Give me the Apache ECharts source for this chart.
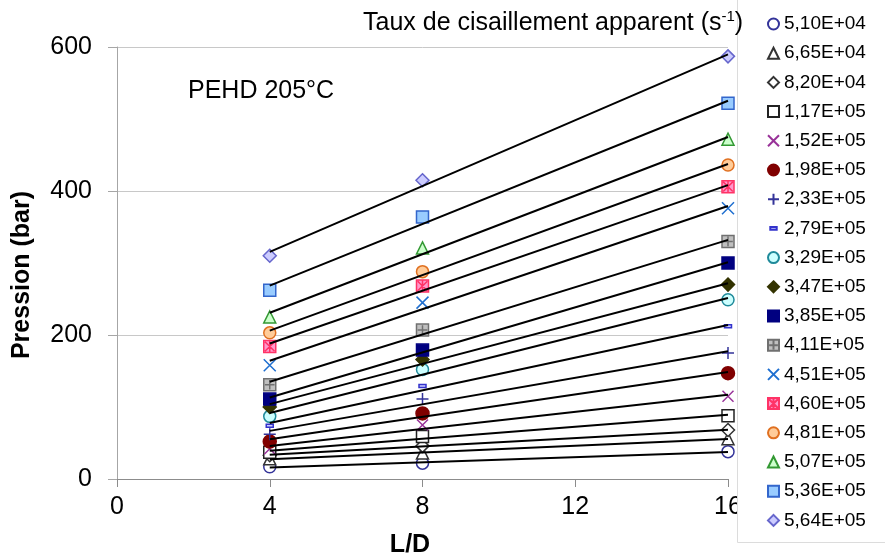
<!DOCTYPE html>
<html><head><meta charset="utf-8">
<script src="https://cdn.jsdelivr.net/npm/echarts@6/dist/echarts.min.js"></script>
<style>html,body{margin:0;padding:0;background:#fff}#c{width:885px;height:556px}</style>
</head><body><div id="c"></div><script>
// L/D values (x)
const ldValues = [4, 8, 16];
// axis ticks
const xTicks = [0, 4, 8, 12, 16];
const yTicks = [0, 200, 400, 600];
// Shear-rate labels (legend)
const shearRates = ['5,10E+04','6,65E+04','8,20E+04','1,17E+05','1,52E+05','1,98E+05','2,33E+05','2,79E+05','3,29E+05','3,47E+05','3,85E+05','4,11E+05','4,51E+05','4,60E+05','4,81E+05','5,07E+05','5,36E+05','5,64E+05'];
// Pressure (bar) at L/D = 4, 8, 16 for each shear rate
const p_510E04 = [17, 22, 38];
const p_665E04 = [28, 36, 56];
const p_820E04 = [33, 46, 68];
const p_117E05 = [37, 59, 88];
const p_152E05 = [42, 75, 115];
const p_198E05 = [52, 91, 147];
const p_233E05 = [62, 111, 175];
const p_279E05 = [74, 129, 212];
const p_329E05 = [87, 152, 249];
const p_347E05 = [100, 166, 270];
const p_385E05 = [111, 179, 300];
const p_411E05 = [131, 207, 330];
const p_451E05 = [158, 245, 376];
const p_460E05 = [184, 268, 406];
const p_481E05 = [203, 288, 436];
const p_507E05 = [225, 321, 472];
const p_536E05 = [262, 364, 522];
const p_564E05 = [310, 415, 587];
const pressures = [p_510E04,p_665E04,p_820E04,p_117E05,p_152E05,p_198E05,p_233E05,p_279E05,p_329E05,p_347E05,p_385E05,p_411E05,p_451E05,p_460E05,p_481E05,p_507E05,p_536E05,p_564E05];

const FONT = 'Liberation Sans, Arial, sans-serif';
const X_PATH = 'path://M0,0L10,10M10,0L0,10';
const PLUS_PATH = 'path://M5,0L5,10M0,5L10,5';
const GRAYPLUS_PATH = 'path://M0,0L10,0L10,10L0,10Z M5,1L5,9 M1,5L9,5';
const STAR_PATH = 'path://M0,0L10,0L10,10L0,10Z M5,0L5,10 M1,1L9,9 M9,1L1,9';
const DASH_PATH = 'path://M0,0M12,12M2.5,4.5L9.5,4.5L9.5,7.5L2.5,7.5Z';
const markerStyles = [
  {symbol:'circle', size:12, fill:'#ffffff', stroke:'#333399'},
  {symbol:'triangle', size:12, fill:'#ffffff', stroke:'#333333'},
  {symbol:'diamond', size:13, fill:'#ffffff', stroke:'#333333'},
  {symbol:'rect', size:12, fill:'#ffffff', stroke:'#222222'},
  {symbol:X_PATH, size:11, fill:'transparent', stroke:'#993399'},
  {symbol:'circle', size:13, fill:'#800000', stroke:'#800000'},
  {symbol:PLUS_PATH, size:12, fill:'transparent', stroke:'#333399'},
  {symbol:DASH_PATH, size:12, fill:'#ccccff', stroke:'#3333cc'},
  {symbol:'circle', size:12, fill:'#ccffff', stroke:'#1f8a9a'},
  {symbol:'diamond', size:13, fill:'#333300', stroke:'#333300'},
  {symbol:'rect', size:12, fill:'#000080', stroke:'#000080'},
  {symbol:GRAYPLUS_PATH, size:12, fill:'#c0c0c0', stroke:'#707070'},
  {symbol:X_PATH, size:12, fill:'transparent', stroke:'#1f6fd0'},
  {symbol:STAR_PATH, size:12, fill:'#ff99cc', stroke:'#ff3366'},
  {symbol:'circle', size:12, fill:'#ffcc99', stroke:'#e07020'},
  {symbol:'triangle', size:12, fill:'#ccffcc', stroke:'#339933'},
  {symbol:'rect', size:12, fill:'#99ccff', stroke:'#3366cc'},
  {symbol:'diamond', size:13, fill:'#ccccff', stroke:'#6666cc'}
];

function linFit(xs, ys) {
  const n = xs.length;
  const mx = xs.reduce((a,b)=>a+b,0)/n, my = ys.reduce((a,b)=>a+b,0)/n;
  let sxy = 0, sxx = 0;
  for (let i=0;i<n;i++){ sxy += (xs[i]-mx)*(ys[i]-my); sxx += (xs[i]-mx)*(xs[i]-mx); }
  const b = sxy/sxx, a = my - b*mx;
  return x => a + b*x;
}

const series = [];
shearRates.forEach((name, i) => {
  const st = markerStyles[i];
  series.push({
    name: name, type: 'scatter', z: 2,
    symbol: st.symbol, symbolSize: st.size,
    itemStyle: {color: st.fill, borderColor: st.stroke, borderWidth: 1.5, opacity: 1},
    data: ldValues.map((x, k) => [x, pressures[i][k]])
  });
});
shearRates.forEach((name, i) => {
  const f = linFit(ldValues, pressures[i]);
  const x0 = ldValues[0], x1 = ldValues[ldValues.length-1];
  series.push({
    name: name + ' fit', type: 'line', z: 3, silent: true,
    showSymbol: false, symbol: 'none',
    lineStyle: {color: '#000000', width: 2},
    data: [[x0, f(x0)], [x1, f(x1)]]
  });
});

const chart = echarts.init(document.getElementById('c'));
chart.setOption({
  animation: false,
  backgroundColor: '#ffffff',
  grid: {left: 117, right: 157, top: 47, bottom: 77, containLabel: false},
  xAxis: {
    type: 'value', min: xTicks[0], max: xTicks[xTicks.length-1], interval: xTicks[1]-xTicks[0],
    axisLine: {show: true, lineStyle: {color: '#8c8c8c', width: 1}},
    axisTick: {show: true, length: 8, lineStyle: {color: '#8c8c8c'}},
    axisLabel: {fontSize: 25, color: '#000', fontFamily: FONT, margin: 16},
    splitLine: {show: false}
  },
  yAxis: {
    type: 'value', min: yTicks[0], max: yTicks[yTicks.length-1], interval: yTicks[1]-yTicks[0],
    axisLine: {show: true, lineStyle: {color: '#a6a6a6', width: 1}},
    axisTick: {show: true, length: 9, lineStyle: {color: '#a6a6a6'}},
    axisLabel: {fontSize: 25, color: '#000', fontFamily: FONT, margin: 25},
    splitLine: {show: true, lineStyle: {color: '#c8c8c8', width: 1}}
  },
  legend: {
    data: shearRates, orient: 'vertical', left: 767, top: 14.5, z: 20,
    itemWidth: 11, itemHeight: 11, itemGap: 10.2, padding: 0,
    textStyle: {fontSize: 19, color: '#000', fontFamily: FONT, lineHeight: 19},
    selectedMode: false
  },
  graphic: [
    {type: 'rect', z: 10, shape: {x: 737.5, y: -2, width: 160, height: 544.5},
     style: {fill: '#ffffff', stroke: '#dcdcdc', lineWidth: 1}},
    {type: 'text', z: 11, x: 363, y: 23,
     style: {text: 'Taux de cisaillement apparent (s{sup|-1})', fontSize: 25, fontFamily: FONT, fill: '#000',
       verticalAlign: 'middle', align: 'left', lineHeight: 28,
       rich: {sup: {fontSize: 15, fontFamily: FONT, verticalAlign: 'top', lineHeight: 28, padding: [0,0,10,0]}}}},
    {type: 'text', z: 11, x: 188, y: 91,
     style: {text: 'PEHD 205°C', fontSize: 25, fontFamily: FONT, fill: '#000', verticalAlign: 'middle', align: 'left'}},
    {type: 'text', z: 11, x: 22, y: 275, rotation: Math.PI/2,
     style: {text: 'Pression (bar)', fontSize: 25, fontWeight: 'bold', fontFamily: FONT, fill: '#000', verticalAlign: 'middle', align: 'center'}},
    {type: 'text', z: 11, x: 410, y: 545,
     style: {text: 'L/D', fontSize: 25, fontWeight: 'bold', fontFamily: FONT, fill: '#000', verticalAlign: 'middle', align: 'center'}}
  ],
  series: series
});
</script></body></html>
